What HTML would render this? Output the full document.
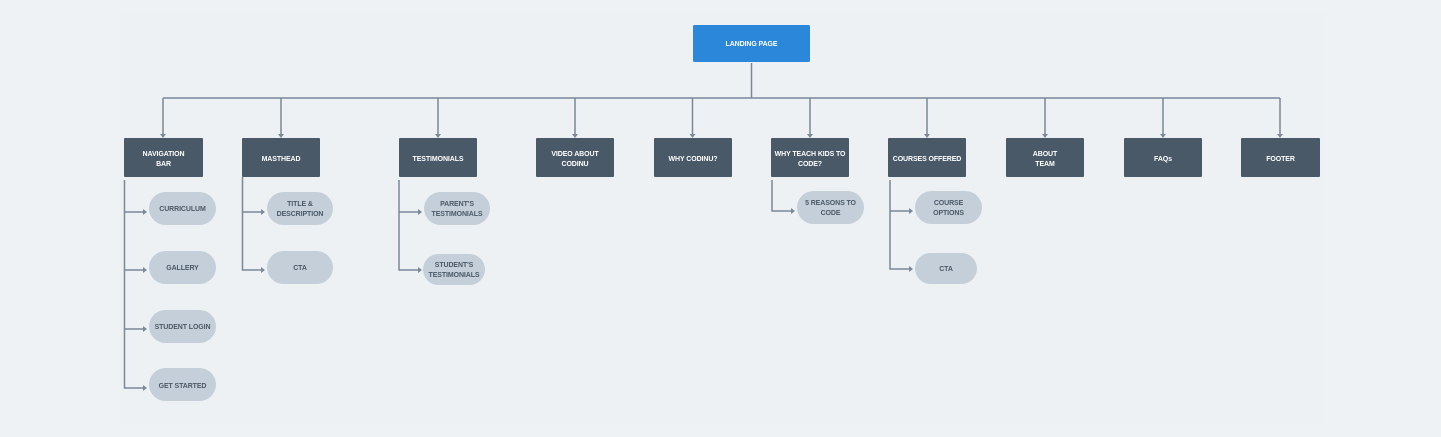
<!DOCTYPE html>
<html><head><meta charset="utf-8"><style>
html,body{margin:0;padding:0;background:#eff2f5;}
svg{display:block;}
text{font-family:"Liberation Sans",sans-serif;font-size:7px;font-weight:bold;text-anchor:middle;letter-spacing:-0.1px;}
.d{fill:#4a5968;}
.dt{fill:#ffffff;}
.p{fill:#c4cfd9;}
.pt{fill:#4a5968;}
.l{stroke:#7a8898;stroke-width:1.5;fill:none;}
.a{fill:#7a8898;}
</style></head><body>
<svg width="1441" height="437" viewBox="0 0 1441 437" xmlns="http://www.w3.org/2000/svg">
<rect x="0" y="0" width="1441" height="437" fill="#eff2f5"/>
<rect x="120" y="14" width="1205" height="410" fill="#edf1f4"/>
<rect x="693" y="25" width="117" height="37" rx="1.5" fill="#2b87d9"/>
<text x="751.5" y="46" fill="#fff">LANDING PAGE</text>
<path class="l" d="M751.5 63 V98 M163 98 H1280"/>
<g class="l">
<path d="M163 98 V135"/><path d="M281 98 V135"/><path d="M438 98 V135"/><path d="M575 98 V135"/><path d="M692.5 98 V135"/><path d="M810 98 V135"/><path d="M927 98 V135"/><path d="M1045 98 V135"/><path d="M1163 98 V135"/><path d="M1280 98 V135"/>
</g>
<g class="a">
<path d="M160 134 h6 l-3 4z"/><path d="M278 134 h6 l-3 4z"/><path d="M435 134 h6 l-3 4z"/><path d="M572 134 h6 l-3 4z"/><path d="M689.5 134 h6 l-3 4z"/><path d="M807 134 h6 l-3 4z"/><path d="M924 134 h6 l-3 4z"/><path d="M1042 134 h6 l-3 4z"/><path d="M1160 134 h6 l-3 4z"/><path d="M1277 134 h6 l-3 4z"/>
</g>
<g class="d">
<rect x="124" y="138" width="79" height="39" rx="1"/>
<rect x="242" y="138" width="78" height="39" rx="1"/>
<rect x="399" y="138" width="78" height="39" rx="1"/>
<rect x="536" y="138" width="78" height="39" rx="1"/>
<rect x="654" y="138" width="78" height="39" rx="1"/>
<rect x="771" y="138" width="78" height="39" rx="1"/>
<rect x="888" y="138" width="78" height="39" rx="1"/>
<rect x="1006" y="138" width="78" height="39" rx="1"/>
<rect x="1124" y="138" width="78" height="39" rx="1"/>
<rect x="1241" y="138" width="79" height="39" rx="1"/>
</g>
<g class="dt">
<text x="163.5" y="156">NAVIGATION</text><text x="163.5" y="166">BAR</text>
<text x="281" y="161">MASTHEAD</text>
<text x="438" y="161">TESTIMONIALS</text>
<text x="575" y="156">VIDEO ABOUT</text><text x="575" y="166">CODINU</text>
<text x="693" y="161">WHY CODINU?</text>
<text x="810" y="156">WHY TEACH KIDS TO</text><text x="810" y="166">CODE?</text>
<text x="927" y="161">COURSES OFFERED</text>
<text x="1045" y="156">ABOUT</text><text x="1045" y="166">TEAM</text>
<text x="1163" y="161">FAQs</text>
<text x="1280.5" y="161">FOOTER</text>
</g>
<path class="l" d="M124.5 180 V388 H144 M124.5 212 H144 M124.5 270 H144 M124.5 329 H144"/>
<path class="l" d="M242.5 177 V270 H262 M242.5 212 H262"/>
<path class="l" d="M399 180 V270 H419 M399 212 H419"/>
<path class="l" d="M772 180 V211 H792"/>
<path class="l" d="M890 180 V269 H910 M890 211 H910"/>
<g class="a">
<path d="M143 209 l4 3 -4 3z"/><path d="M143 267 l4 3 -4 3z"/><path d="M143 326 l4 3 -4 3z"/><path d="M143 385 l4 3 -4 3z"/>
<path d="M261 209 l4 3 -4 3z"/><path d="M261 267 l4 3 -4 3z"/>
<path d="M418 209 l4 3 -4 3z"/><path d="M418 267 l4 3 -4 3z"/>
<path d="M791 208 l4 3 -4 3z"/>
<path d="M909 208 l4 3 -4 3z"/><path d="M909 266 l4 3 -4 3z"/>
</g>
<g class="p">
<rect x="149" y="192" width="67" height="33" rx="16.5"/>
<rect x="149" y="251" width="67" height="33" rx="16.5"/>
<rect x="149" y="310" width="67" height="33" rx="16.5"/>
<rect x="149" y="368" width="67" height="33" rx="16.5"/>
<rect x="267" y="192" width="66" height="33" rx="16.5"/>
<rect x="267" y="251" width="66" height="33" rx="16.5"/>
<rect x="424" y="192" width="66" height="33" rx="16.5"/>
<rect x="423" y="254" width="62" height="31" rx="15.5"/>
<rect x="797" y="191" width="67" height="33" rx="16.5"/>
<rect x="915" y="191" width="67" height="33" rx="16.5"/>
<rect x="915" y="253" width="62" height="31" rx="15.5"/>
</g>
<g class="pt">
<text x="182.5" y="211">CURRICULUM</text>
<text x="182.5" y="270">GALLERY</text>
<text x="182.5" y="329">STUDENT LOGIN</text>
<text x="182.5" y="388">GET STARTED</text>
<text x="300" y="206">TITLE &amp;</text><text x="300" y="216">DESCRIPTION</text>
<text x="300" y="270">CTA</text>
<text x="457" y="206">PARENT'S</text><text x="457" y="216">TESTIMONIALS</text>
<text x="454" y="267">STUDENT'S</text><text x="454" y="277">TESTIMONIALS</text>
<text x="830.5" y="205">5 REASONS TO</text><text x="830.5" y="215">CODE</text>
<text x="948.5" y="205">COURSE</text><text x="948.5" y="215">OPTIONS</text>
<text x="946" y="271">CTA</text>
</g>
</svg>
</body></html>
